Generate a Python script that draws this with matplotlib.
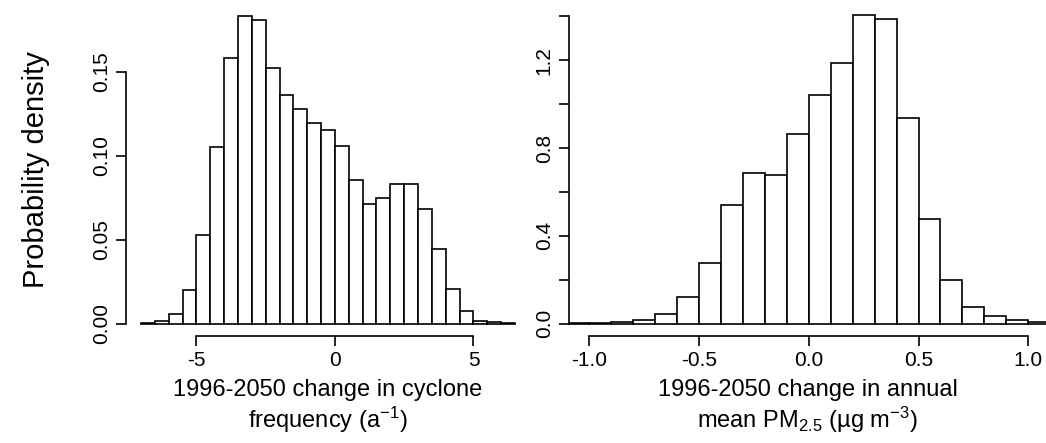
import numpy as np
import matplotlib
matplotlib.use("Agg")
import matplotlib.pyplot as plt

plt.rcParams['font.family'] = ['Liberation Sans', 'DejaVu Sans']
plt.rcParams['mathtext.fontset'] = 'custom'
plt.rcParams['mathtext.rm'] = 'Liberation Sans'
plt.rcParams['mathtext.it'] = 'Liberation Sans'
plt.rcParams['axes.unicode_minus'] = False

# --- cyclone frequency change (bins of 0.5 from -7) ---
cyc_edges = np.arange(-7.0, 6.51, 0.5)
cyc_density = [0.0004, 0.0014, 0.0058, 0.0198, 0.0526, 0.105, 0.158, 0.1835,
               0.181, 0.152, 0.136, 0.128, 0.1196, 0.1153, 0.1058, 0.0857,
               0.0712, 0.0746, 0.0833, 0.0833, 0.0683, 0.0446, 0.0204,
               0.0073, 0.0018, 0.0008, 0.0003]

# --- PM2.5 change (bins of 0.1 from -1.1) ---
pm_edges = np.round(np.arange(-1.1, 1.11, 0.1), 2)
pm_density = [0.0015, 0.003, 0.0076, 0.0167, 0.044, 0.12, 0.278, 0.539, 0.686,
              0.677, 0.862, 1.039, 1.188, 1.404, 1.385, 0.935, 0.476, 0.2,
              0.076, 0.035, 0.015, 0.0076]

fig = plt.figure(figsize=(10.46, 4.43), dpi=100)
W, H = 1046, 443
ax1 = fig.add_axes([126 / W, 1 - 336 / H, (530 - 126) / W, (336 - 3) / H])
ax2 = fig.add_axes([569 / W, 1 - 336 / H, (1046 - 569) / W, (336 - 3) / H])


def r_hist(ax, edges, dens):
    ax.bar(edges[:-1], dens, width=np.diff(edges), align='edge',
           color='white', edgecolor='black', linewidth=1.2)
    for s in ['top', 'right']:
        ax.spines[s].set_visible(False)
    for s in ['left', 'bottom']:
        ax.spines[s].set_linewidth(1.2)
    ax.tick_params(direction='out', length=7, width=1.2, labelsize=15, pad=4)


r_hist(ax1, cyc_edges, cyc_density)
ax1.set_xlim(-7.54, 7.04)
ax1.set_ylim(-0.0073, 0.191)
ax1.set_xticks([-5, 0, 5])
ax1.set_yticks([0, 0.05, 0.10, 0.15])
ax1.set_yticklabels(['0.00', '0.05', '0.10', '0.15'], rotation=90, va='center')
ax1.spines['left'].set_bounds(0, 0.15)
ax1.spines['bottom'].set_bounds(-5, 5)
ax1.set_ylabel('Probability density', fontsize=21, labelpad=30)
ax1.set_xlabel('1996-2050 change in cyclone\nfrequency (a$^{-1}$)', fontsize=17, labelpad=6)

r_hist(ax2, pm_edges, pm_density)
ax2.set_xlim(-1.09, 1.08)
ax2.set_ylim(-0.056, 1.46)
ax2.set_xticks([-1.0, -0.5, 0.0, 0.5, 1.0])
ax2.set_xticklabels(['-1.0', '-0.5', '0.0', '0.5', '1.0'])
ax2.set_yticks(np.arange(0, 1.41, 0.2))
ax2.set_yticklabels(['0.0', '', '0.4', '', '0.8', '', '1.2', ''], rotation=90, va='center')
ax2.spines['left'].set_bounds(0, 1.4)
ax2.spines['bottom'].set_bounds(-1.0, 1.0)
ax2.set_xlabel('1996-2050 change in annual\nmean PM$_{2.5}$ (µg m$^{-3}$)', fontsize=17, labelpad=6)

fig.savefig('out.png', dpi=100)
